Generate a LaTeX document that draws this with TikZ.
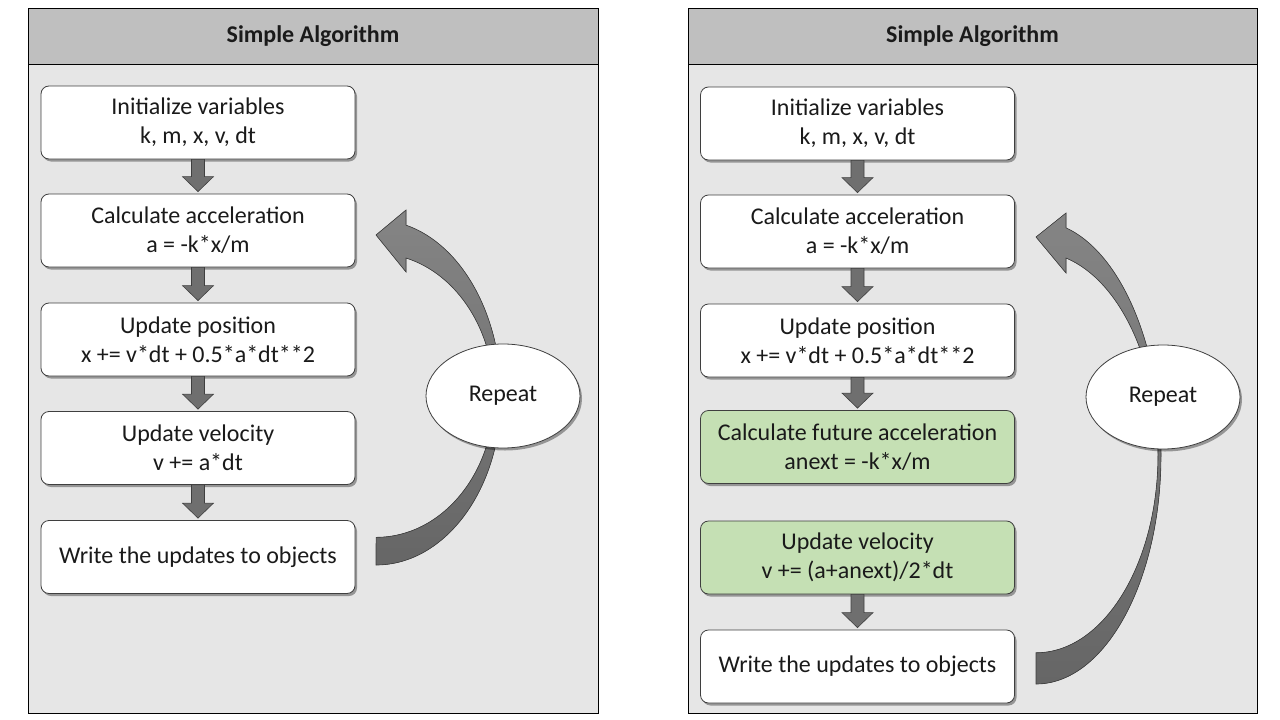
\documentclass[tikz,border=0pt]{standalone}
\usepackage{fontspec}
\setmainfont{Carlito}
\usetikzlibrary{shapes.geometric,shadows}
\definecolor{hdr}{HTML}{BFBFBF}
\definecolor{bodyg}{HTML}{E6E6E6}
\definecolor{grn}{HTML}{C5E0B4}
\definecolor{arrg}{HTML}{6F6F6F}
\definecolor{edge}{HTML}{3F3F3F}
\definecolor{txt}{HTML}{1A1A1A}
\newcommand\stepconn[2]{\draw[smallarr] ([xshift=-6.5pt]#1.south) -- ([xshift=6.5pt]#1.south) -- ([xshift=6.5pt,yshift=17pt]#2.north) -- ([xshift=15.5pt,yshift=17pt]#2.north) -- ([yshift=2pt]#2.north) -- ([xshift=-15.5pt,yshift=17pt]#2.north) -- ([xshift=-6.5pt,yshift=17pt]#2.north) -- cycle;}
\begin{document}
\begin{tikzpicture}[x=1pt,y=-1pt,
  panel/.style={draw=black, line width=0.9pt, fill=bodyg},
  header/.style={draw=black, line width=0.9pt, fill=hdr, minimum width=570pt, minimum height=56pt, inner sep=0pt, font=\fontsize{24}{28}\selectfont\bfseries, text=txt},
  stepbox/.style={draw=edge, line width=0.8pt, fill=white, rounded corners=8pt, minimum width=314pt, minimum height=73pt, inner sep=0pt, align=center, font=\fontsize{24}{29}\selectfont, text=txt, drop shadow={shadow xshift=2pt, shadow yshift=-2.5pt, opacity=0.35, fill=black}},
  greenbox/.style={stepbox, fill=grn},
  loopnode/.style={ellipse, draw=edge, line width=0.8pt, fill=white, minimum width=154pt, minimum height=104pt, inner sep=0pt, font=\fontsize{24}{28}\selectfont, text=txt, drop shadow={shadow xshift=2pt, shadow yshift=-2.5pt, opacity=0.35, fill=black}},
  smallarr/.style={draw=edge, line width=0.6pt, fill=arrg},
  curv/.style={draw=edge, line width=0.6pt, top color=black!48, bottom color=black!60}
]
\useasboundingbox (0,0) rectangle (1280,720);

% ---------- left panel ----------
\draw[panel] (28,8) rectangle (598,713);
\node[header] (hL) at (313,36) {Simple Algorithm};

\fill[curv] (376,565) arc[start angle=90, end angle=0, x radius=125, y radius=169]
  arc[start angle=0, end angle=-76.1, x radius=125, y radius=176]
  -- (406,210) -- (376,235) -- (406,272) -- (406,258)
  arc[start angle=-75.3, end angle=0, x radius=118, y radius=143]
  arc[start angle=0, end angle=90, x radius=118, y radius=141]
  -- cycle;
\node[loopnode] (rL) at (503,396) {Repeat};

\node[stepbox] (L1) at (198,122.5) {Initialize variables\\k, m, x, v, dt};
\node[stepbox] (L2) at (198,230.5) {Calculate acceleration\\a = -k*x/m};
\node[stepbox] (L3) at (198,339.5) {Update position\\x += v*dt + 0.5*a*dt**2};
\node[stepbox] (L4) at (198,448) {Update velocity\\v += a*dt};
\node[stepbox] (L5) at (198,557) {Write the updates to objects};
\stepconn{L1}{L2}
\stepconn{L2}{L3}
\stepconn{L3}{L4}
\stepconn{L4}{L5}

% ---------- right panel ----------
\draw[panel] (688,8) rectangle (1257,713);
\node[header, minimum width=569pt] (hR) at (972.5,36) {Simple Algorithm};

\fill[curv] (1036,684) arc[start angle=90, end angle=0, x radius=125, y radius=229]
  arc[start angle=0, end angle=-76.1, x radius=125, y radius=234]
  -- (1066,213) -- (1036,237) -- (1066,273) -- (1066,258)
  arc[start angle=-75.76, end angle=0, x radius=122, y radius=203]
  arc[start angle=0, end angle=90, x radius=122, y radius=198]
  -- cycle;
\node[loopnode] (rR) at (1163,397) {Repeat};

\node[stepbox] (R1) at (857.5,123.5) {Initialize variables\\k, m, x, v, dt};
\node[stepbox] (R2) at (857.5,231.5) {Calculate acceleration\\a = -k*x/m};
\node[stepbox] (R3) at (857.5,340.5) {Update position\\x += v*dt + 0.5*a*dt**2};
\node[greenbox] (R4) at (857.5,447) {Calculate future acceleration\\anext = -k*x/m};
\node[greenbox] (R5) at (857.5,557.5) {Update velocity\\v += (a+anext)/2*dt};
\node[stepbox] (R6) at (857.5,666.5) {Write the updates to objects};
\stepconn{R1}{R2}
\stepconn{R2}{R3}
\stepconn{R3}{R4}
\stepconn{R5}{R6}
\end{tikzpicture}
\end{document}
